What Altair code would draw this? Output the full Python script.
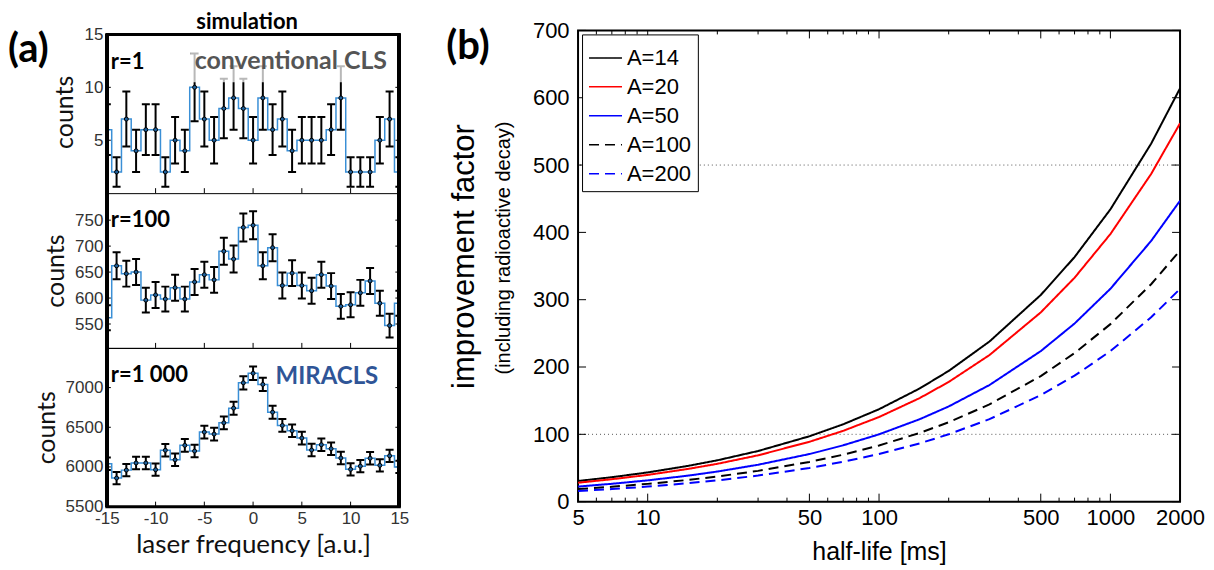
import altair as alt
import pandas as pd

# ---------------- panel (a) data ----------------
freq = list(range(-15, 16))
counts_r1 = [6, 2, 7, 4, 6, 6, 2, 5, 4, 10, 7, 5, 8, 9, 8, 5, 9, 6, 7, 4, 5, 5, 5, 6, 9, 2, 2, 2, 5, 7, 2]
err_r1 = [2.4, 1.4, 2.6, 2.0, 2.4, 2.4, 1.4, 2.2, 2.0, 3.2, 2.6, 2.2, 2.8, 3.0, 2.8, 2.2,
          3.0, 2.4, 2.6, 2.0, 2.2, 2.2, 2.2, 2.4, 3.0, 1.4, 1.4, 1.4, 2.2, 2.6, 1.4]
counts_r100 = [562, 662, 647, 650, 596, 606, 598, 620, 598, 631, 645, 635, 690, 675, 736, 740,
               662, 697, 624, 648, 624, 614, 645, 623, 584, 587, 610, 633, 590, 547, 590]
err_r100 = [24, 26, 25, 25, 24, 25, 24, 25, 24, 25, 25, 25, 26, 26, 27, 27,
            26, 26, 25, 25, 25, 25, 25, 25, 24, 24, 25, 25, 24, 23, 24]
counts_r1000 = [6040, 5860, 5960, 6050, 6050, 5965, 6210, 6090, 6272, 6200, 6439, 6414, 6556, 6741, 7060, 7180,
                7040, 6690, 6523, 6456, 6364, 6213, 6280, 6230, 6113, 5970, 6010, 6110, 6020, 6140, 6000]
err_r1000 = [78, 77, 77, 78, 78, 77, 79, 78, 79, 79, 80, 80, 81, 82, 84, 85,
             84, 82, 81, 80, 80, 79, 79, 79, 78, 77, 78, 78, 78, 78, 77]
freq_ticks = [-15, -10, -5, 0, 5, 10, 15]

# ---------------- panel (b) data ----------------
halflife = [5, 7, 10, 15, 20, 30, 50, 70, 100, 150, 200, 300, 500, 700, 1000, 1500, 2000]
A14 = [30.7, 36.3, 43.4, 53.2, 61.4, 75.2, 97.1, 114.9, 137.3, 168.2, 194.2, 237.8, 307.0, 363.3, 434.2, 531.8, 614]
A20 = [28.1, 33.3, 39.7, 48.7, 56.2, 68.8, 88.9, 105.2, 125.7, 153.9, 177.8, 217.7, 281.1, 332.6, 397.5, 486.8, 562]
A50 = [22.4, 26.5, 31.6, 38.7, 44.7, 54.8, 70.7, 83.7, 100.0, 122.5, 141.4, 173.2, 223.6, 264.6, 316.2, 387.3, 447]
A100 = [18.6, 22.1, 26.4, 32.3, 37.3, 45.7, 59.0, 69.8, 83.4, 102.1, 117.9, 144.5, 186.5, 220.7, 263.7, 323.0, 373]
A200 = [15.8, 18.7, 22.4, 27.4, 31.6, 38.7, 50.0, 59.2, 70.7, 86.6, 100.0, 122.5, 158.1, 187.1, 223.6, 273.8, 316]
series_names = ["A=14", "A=20", "A=50", "A=100", "A=200"]
series_colors = ["#000000", "#ff0000", "#0000ff", "#000000", "#0000ff"]
series_dash = [[1, 0], [1, 0], [1, 0], [10, 6], [10, 6]]
ref_levels = [100, 500]
y_ticks_b = [0, 100, 200, 300, 400, 500, 600, 700]
x_ticks_b = [5, 10, 50, 100, 500, 1000, 2000]
x_minor_b = [6, 7, 8, 9, 20, 30, 40, 60, 70, 80, 90, 200, 300, 400, 600, 700, 800, 900]

LAB = "Liberation Sans"
TXT = "Lato"
STEP_BLUE = "#3a8fd6"
PLAIN = "'' + datum.value"

WA = 293
TOP1 = 4  # blank strip above the top frame of the first panel


def panel_a(counts, errs, yvals, ydomain, height, show_x, texts, top=0):
    df = pd.DataFrame({"f": freq, "c": counts, "e": errs})
    df["lo"] = df["c"] - df["e"]
    df["hi"] = df["c"] + df["e"]
    base = alt.Chart(df)
    xs = alt.Scale(domain=[-15, 15], nice=False)
    ys = alt.Scale(domain=ydomain, nice=False, zero=False)
    if show_x:
        xaxis = alt.Axis(values=freq_ticks, labelExpr=PLAIN, title="laser frequency [a.u.]",
                         labelFont=LAB, labelFontSize=17, labelColor="#333", titleFont=TXT,
                         titleFontSize=26, titleFontWeight="normal", titleColor="#111",
                         ticks=False, domain=False, grid=False, labelPadding=4, titlePadding=5,
                         labelFlush=False)
    else:
        xaxis = None
    yaxis = alt.Axis(values=yvals, labelExpr=PLAIN, title="counts", labelFont=LAB, labelFontSize=17,
                     labelColor="#333", titleFont=TXT, titleFontSize=25, titleFontWeight="normal",
                     titleColor="#111", ticks=False, domain=False, grid=False, labelPadding=4,
                     titlePadding=6, labelFlush=False)

    def X(field):
        return alt.X(field, scale=xs, axis=xaxis)

    def Y(field):
        return alt.Y(field, scale=ys, axis=yaxis)

    line = base.mark_line(interpolate="step", color=STEP_BLUE, strokeWidth=1.5, clip=True).encode(
        x=X("f:Q"), y=Y("c:Q"))
    bars = base.mark_rule(color="black", strokeWidth=2, clip=True).encode(
        x=X("f:Q"), y=Y("lo:Q"), y2="hi:Q")
    cap_lo = base.mark_tick(orient="horizontal", size=8, thickness=2, color="black", clip=True, opacity=1).encode(
        x=X("f:Q"), y=Y("lo:Q"))
    cap_hi = base.mark_tick(orient="horizontal", size=8, thickness=2, color="black", clip=True, opacity=1).encode(
        x=X("f:Q"), y=Y("hi:Q"))
    pts = base.mark_point(filled=True, size=16, fill="#1f5f99", stroke="black", strokeWidth=1,
                          opacity=1, clip=True).encode(x=X("f:Q"), y=Y("c:Q"))
    tdf = pd.DataFrame({"c": yvals})
    tick_l = alt.Chart(tdf).mark_rule(color="black", strokeWidth=1).encode(
        y=Y("c:Q"), x=alt.value(0), x2=alt.value(4))
    tick_r = alt.Chart(tdf).mark_rule(color="black", strokeWidth=1).encode(
        y=Y("c:Q"), x=alt.value(WA - 4), x2=alt.value(WA))
    fdf = pd.DataFrame({"f": freq_ticks})
    tick_b = alt.Chart(fdf).mark_rule(color="black", strokeWidth=1).encode(
        x=X("f:Q"), y=alt.value(height), y2=alt.value(height - 5))
    layers = [tick_l, tick_r, tick_b, line, bars, cap_lo, cap_hi, pts]
    layers += texts
    layers.append(alt.Chart(df).mark_rule(color="black", strokeWidth=3).encode(
        x=alt.value(0), y=alt.value(top), y2=alt.value(height)))
    layers.append(alt.Chart(df).mark_rule(color="black", strokeWidth=3).encode(
        x=alt.value(WA), y=alt.value(top), y2=alt.value(height)))
    return alt.layer(*layers).properties(width=WA, height=height)


def label(text, x, y, size=22, color="black", font=TXT, weight="bold", align="left"):
    return alt.Chart(pd.DataFrame({"t": [text]})).mark_text(
        font=font, fontSize=size, fontWeight=weight, color=color, align=align,
        baseline="alphabetic").encode(text="t:N", x=alt.value(x), y=alt.value(y))


H1, H2, H3 = 159 + TOP1, 155, 159

box_df = pd.DataFrame({"k": [0]})
white_box = alt.Chart(box_df).mark_rect(color="white", opacity=0.72).encode(
    x=alt.value(84), x2=alt.value(289), y=alt.value(TOP1 + 3), y2=alt.value(TOP1 + 48))
top_edge = alt.Chart(box_df).mark_rule(color="black", strokeWidth=3).encode(
    x=alt.value(-1.5), x2=alt.value(WA + 1.5), y=alt.value(TOP1))
bot_edge = alt.Chart(box_df).mark_rule(color="black", strokeWidth=3).encode(
    x=alt.value(-1.5), x2=alt.value(WA + 1.5), y=alt.value(H3))

p1 = panel_a(counts_r1, err_r1, [5, 10, 15], [0, 15 * H1 / 159], H1, False, [
    white_box,
    label("r=1", 4, TOP1 + 35, 22),
    label("conventional CLS", 88, TOP1 + 35, 25, color="#555555"),
    label("simulation", WA / 2 - 6, TOP1 - 5, 22, align="center"),
    label("(a)", -99, TOP1 + 28, 40),
    top_edge,
], top=TOP1).properties(view=alt.ViewBackground(strokeOpacity=0))
p2 = panel_a(counts_r100, err_r100, [550, 600, 650, 700, 750], [504, 802], H2, False, [
    label("r=100", 4, 34, 22),
])
p3 = panel_a(counts_r1000, err_r1000, [5500, 6000, 6500, 7000], [5500, 7500], H3, True, [
    label("r=1 000", 4, 34, 22),
    label("MIRACLS", 169, 36, 24, color="#2f5597"),
    bot_edge,
])

left = alt.vconcat(p1, p2, p3, spacing=0).properties(bounds="flush")

# ---------------- panel (b) ----------------
WB, HB = 603, 472
rows = []
for name, vals in zip(series_names, [A14, A20, A50, A100, A200]):
    for t, v in zip(halflife, vals):
        rows.append({"series": name, "t": t, "v": v})
bdf = pd.DataFrame(rows)

xsb = alt.Scale(type="log", domain=[5, 2000], nice=False)
ysb = alt.Scale(domain=[0, 700], nice=False)
xaxis_b = alt.Axis(values=x_ticks_b, labelExpr=PLAIN, title="half-life [ms]", labelFont=LAB,
                   labelFontSize=22, labelColor="black", titleFont=LAB, titleFontSize=25,
                   titleFontWeight="normal", titleColor="black", ticks=False, domain=False,
                   grid=False, labelPadding=6, titlePadding=11, labelFlush=False)
yaxis_b = alt.Axis(values=y_ticks_b, labelExpr=PLAIN, title="improvement factor", labelFont=LAB,
                   labelFontSize=22, labelColor="black", titleFont=LAB, titleFontSize=31,
                   titleFontWeight="normal", titleColor="black", ticks=False, domain=False,
                   grid=False, labelPadding=9, titlePadding=52, labelFlush=False, titleY=226)


def XB(field):
    return alt.X(field, scale=xsb, axis=xaxis_b)


def YB(field):
    return alt.Y(field, scale=ysb, axis=yaxis_b)


ref = alt.Chart(pd.DataFrame({"v": ref_levels})).mark_rule(
    color="#555", strokeWidth=1, strokeDash=[1, 3]).encode(y=YB("v:Q"))

leg = dict(title=None, orient="top-left", offset=4, fillColor="white", strokeColor="black",
           labelFont=LAB, labelFontSize=22, labelColor="black", symbolType="stroke",
           symbolSize=1089, symbolStrokeWidth=1.5, rowPadding=0, padding=6,
           labelOffset=4, labelLimit=200)

lines = alt.Chart(bdf).mark_line(strokeWidth=2, clip=True).encode(
    x=XB("t:Q"),
    y=YB("v:Q"),
    color=alt.Color("series:N", scale=alt.Scale(domain=series_names, range=series_colors),
                    legend=alt.Legend(**leg)),
    strokeDash=alt.StrokeDash("series:N", scale=alt.Scale(domain=series_names, range=series_dash),
                              legend=alt.Legend(**leg)),
    detail="series:N",
)

maj = pd.DataFrame({"t": x_ticks_b})
mnr = pd.DataFrame({"t": x_minor_b})
yt = pd.DataFrame({"v": y_ticks_b})
tk = []
tk.append(alt.Chart(maj).mark_rule(color="black", strokeWidth=1).encode(
    x=XB("t:Q"), y=alt.value(0), y2=alt.value(8)))
tk.append(alt.Chart(maj).mark_rule(color="black", strokeWidth=1).encode(
    x=XB("t:Q"), y=alt.value(HB), y2=alt.value(HB - 8)))
tk.append(alt.Chart(mnr).mark_rule(color="black", strokeWidth=1).encode(
    x=XB("t:Q"), y=alt.value(0), y2=alt.value(4)))
tk.append(alt.Chart(mnr).mark_rule(color="black", strokeWidth=1).encode(
    x=XB("t:Q"), y=alt.value(HB), y2=alt.value(HB - 4)))
tk.append(alt.Chart(yt).mark_rule(color="black", strokeWidth=1).encode(
    y=YB("v:Q"), x=alt.value(0), x2=alt.value(8)))
tk.append(alt.Chart(yt).mark_rule(color="black", strokeWidth=1).encode(
    y=YB("v:Q"), x=alt.value(WB - 8), x2=alt.value(WB)))

sub = alt.Chart(pd.DataFrame({"t": ["(including  radioactive decay)"]})).mark_text(
    font=LAB, fontSize=20, angle=270, align="center", baseline="middle", color="black").encode(
    text="t:N", x=alt.value(-74), y=alt.value(218))

right = alt.layer(ref, *tk, lines, sub, label("(b)", -132, 29, 40)).properties(
    width=WB, height=HB, view=alt.ViewBackground(stroke="black", strokeWidth=2))

chart = alt.hconcat(left, right, spacing=472).resolve_legend(
    color="independent", strokeDash="independent"
).properties(
    bounds="flush",
    padding={"left": 0, "top": 3, "right": 0, "bottom": 0}
).configure_view(stroke="black", strokeWidth=1)

chart.save("out.html", embed_options={"renderer": "svg", "actions": False})
